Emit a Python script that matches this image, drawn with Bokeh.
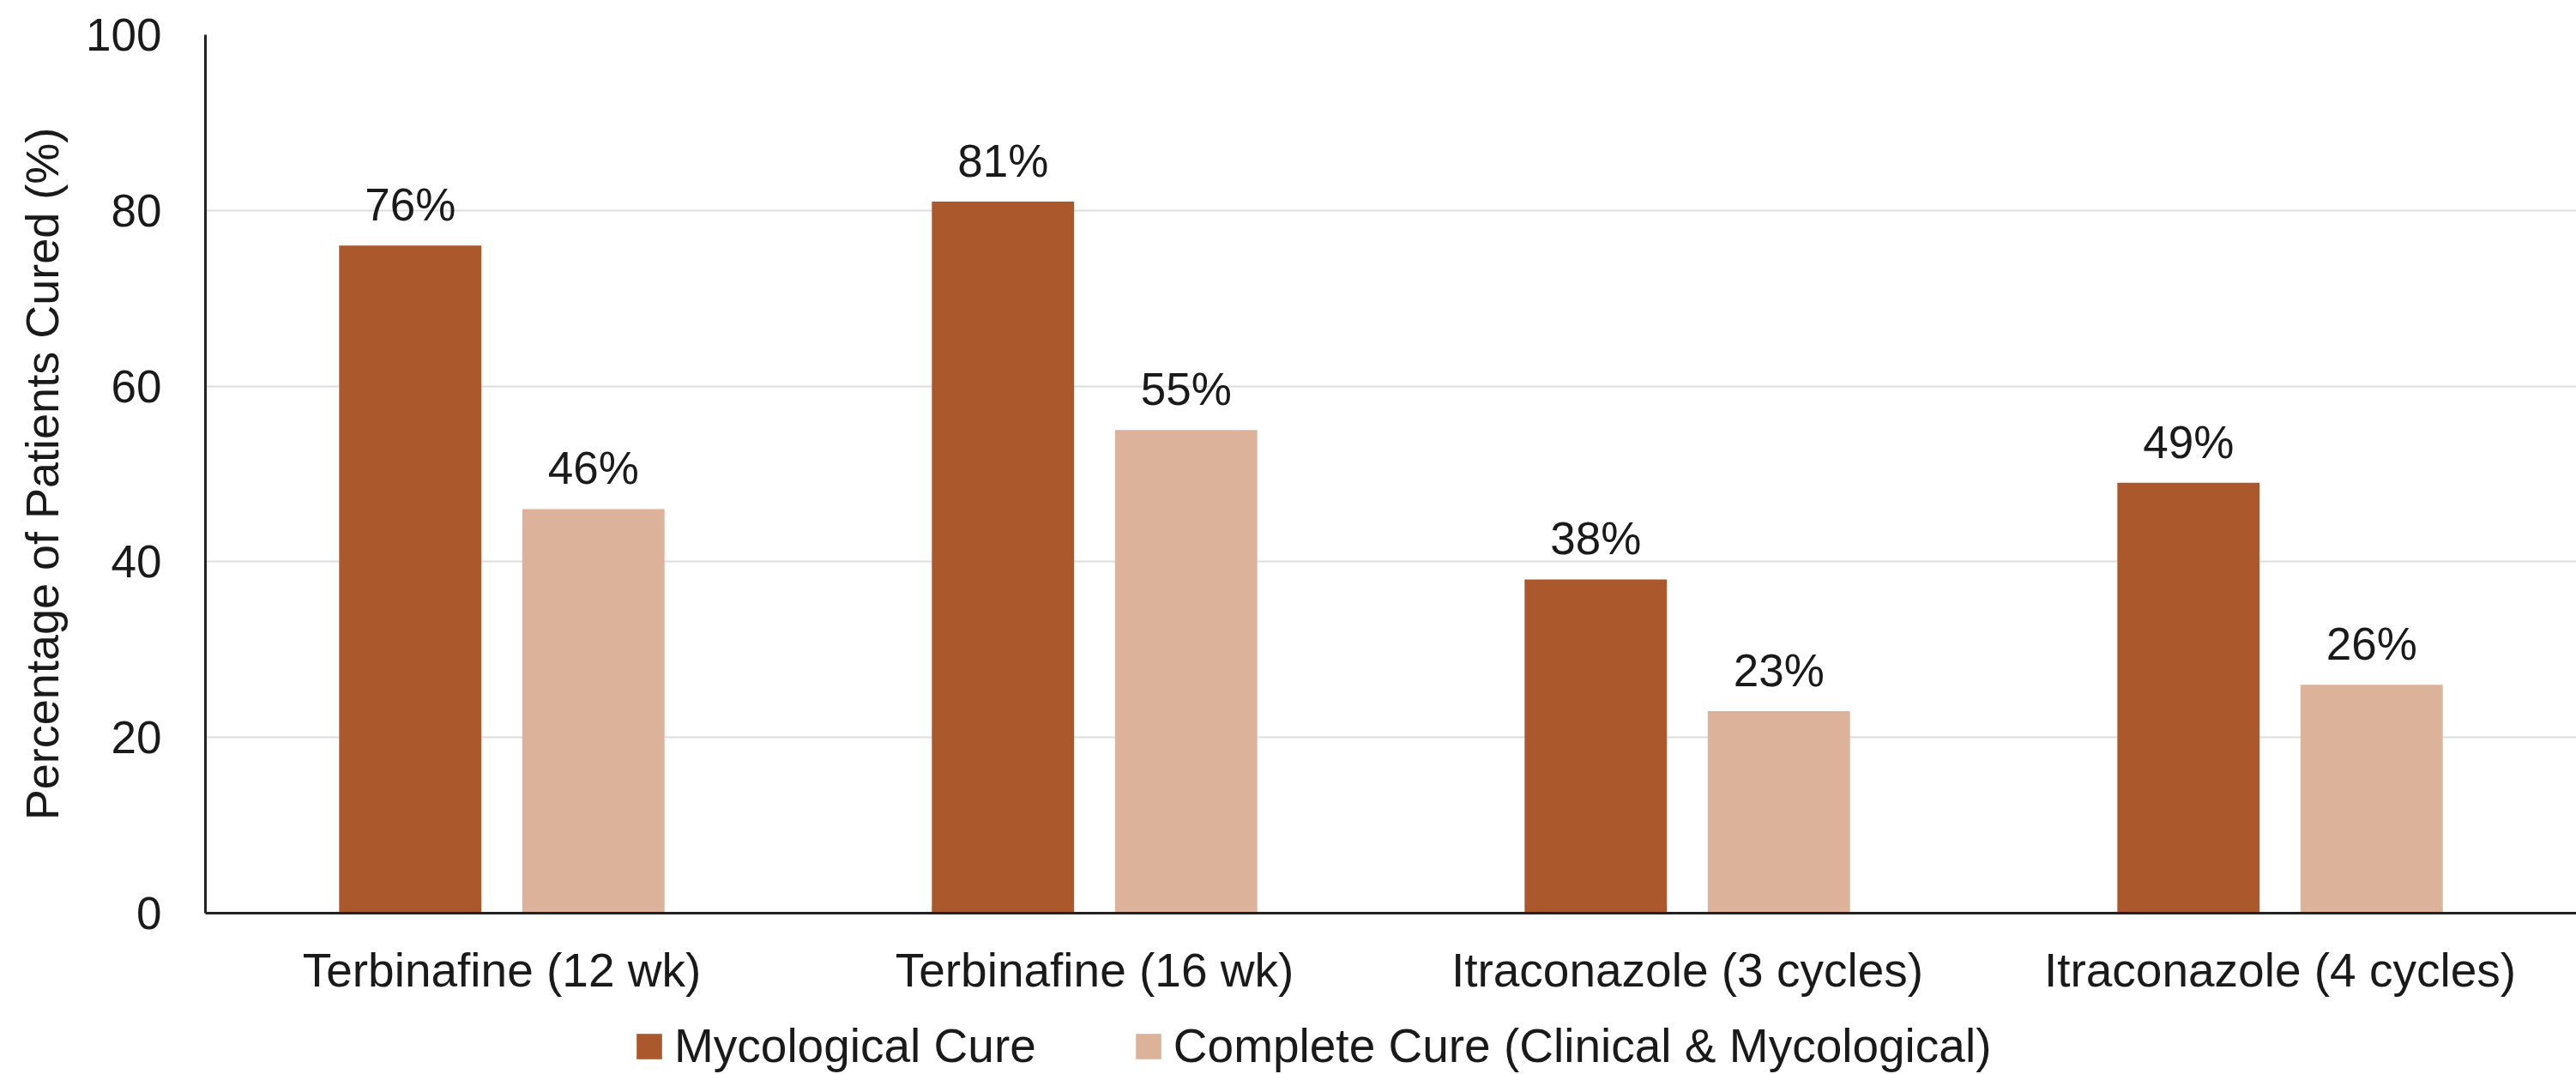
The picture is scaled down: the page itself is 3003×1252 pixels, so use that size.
from bokeh.plotting import figure
from bokeh.layouts import column
from bokeh.models import (ColumnDataSource, FactorRange, Legend, LegendItem,
                          LabelSet, Range1d, FixedTicker)
from bokeh.core.properties import value
from bokeh.transform import dodge
from bokeh.embed import file_html
from bokeh.resources import INLINE

# ---- data ----
categories = ["Terbinafine (12 wk)", "Terbinafine (16 wk)",
              "Itraconazole (3 cycles)", "Itraconazole (4 cycles)"]
mycological = [76, 81, 38, 49]
complete = [46, 55, 23, 26]
series_names = ["Mycological Cure", "Complete Cure (Clinical & Mycological)"]
y_ticks = [0, 20, 40, 60, 80, 100]
y_label = "Percentage of Patients Cured (%)"

MYCO_COLOR = "#AA582C"
COMP_COLOR = "#DCB29B"
FONT = "Liberation Sans"
TEXT_COLOR = "#1a1a1a"

src = ColumnDataSource(dict(
    cat=categories,
    myco=mycological,
    comp=complete,
    myco_lbl=[f"{v}%" for v in mycological],
    comp_lbl=[f"{v}%" for v in complete],
))

p = figure(
    x_range=FactorRange(factors=categories),
    y_range=Range1d(0, 100),
    width=3003, height=1180,
    output_backend="svg", toolbar_location=None,
    min_border_left=239, min_border_top=40,
    min_border_right=0, min_border_bottom=116,
)
p.outline_line_color = None
p.background_fill_color = "white"
p.border_fill_color = "white"

OFF = 0.1545
BW = 0.24
r1 = p.vbar(x=dodge("cat", -OFF, range=p.x_range), top="myco", width=BW,
            source=src, fill_color=MYCO_COLOR, line_color=None)
r2 = p.vbar(x=dodge("cat", OFF, range=p.x_range), top="comp", width=BW,
            source=src, fill_color=COMP_COLOR, line_color=None)

for col, off in (("myco", -OFF), ("comp", OFF)):
    ls = LabelSet(x=dodge("cat", off, range=p.x_range), y=col, text=col + "_lbl",
                  source=src, text_align="center", text_baseline="alphabetic",
                  y_offset=29, text_font=value(FONT), text_font_size=value("53px"),
                  text_color=TEXT_COLOR)
    p.add_layout(ls)

# axes
p.yaxis.ticker = FixedTicker(ticks=y_ticks)
p.yaxis.axis_label = y_label
p.yaxis.axis_label_text_font = FONT
p.yaxis.axis_label_text_font_size = "54px"
p.yaxis.axis_label_text_font_style = "normal"
p.yaxis.axis_label_text_color = TEXT_COLOR
p.yaxis.axis_label_standoff = 18
p.yaxis.major_label_text_font = FONT
p.yaxis.major_label_text_font_size = "53px"
p.yaxis.major_label_text_color = TEXT_COLOR
p.yaxis.major_label_standoff = 51
p.yaxis.major_tick_line_color = None
p.yaxis.minor_tick_line_color = None
p.yaxis.major_tick_out = 0
p.yaxis.major_tick_in = 0
p.yaxis.axis_line_color = "#222222"
p.yaxis.axis_line_width = 3

p.xaxis.major_label_text_font = FONT
p.xaxis.major_label_text_font_size = "55px"
p.xaxis.major_label_text_color = TEXT_COLOR
p.xaxis.major_label_standoff = 35
p.xaxis.major_tick_line_color = None
p.xaxis.minor_tick_line_color = None
p.xaxis.major_tick_out = 0
p.xaxis.major_tick_in = 0
p.xaxis.axis_line_color = "#222222"
p.xaxis.axis_line_width = 3

p.xgrid.grid_line_color = None
p.ygrid.grid_line_color = "#dddddd"
p.ygrid.grid_line_width = 2

# ---- legend strip below the chart (same bars, scrolled out of view) ----
lf = figure(width=3003, height=72, x_range=p.x_range, y_range=Range1d(500, 501),
            output_backend="svg", toolbar_location=None,
            x_axis_type=None, y_axis_type=None,
            min_border_left=239, min_border_right=0,
            min_border_top=0, min_border_bottom=0)
lf.outline_line_color = None
lf.xgrid.visible = False
lf.ygrid.visible = False
lf.border_fill_color = "white"
lf.background_fill_color = "white"
lr1 = lf.vbar(x=dodge("cat", -OFF, range=p.x_range), top="myco", width=BW,
              source=src, fill_color=MYCO_COLOR, line_color=None)
lr2 = lf.vbar(x=dodge("cat", OFF, range=p.x_range), top="comp", width=BW,
              source=src, fill_color=COMP_COLOR, line_color=None)

legend = Legend(
    items=[LegendItem(label=series_names[0], renderers=[lr1]),
           LegendItem(label=series_names[1], renderers=[lr2])],
    orientation="horizontal",
    location=(499, 1),
    label_text_font=FONT, label_text_font_size="55px",
    label_text_color=TEXT_COLOR,
    glyph_width=37, glyph_height=37,
    label_standoff=11, spacing=112,
    padding=0, margin=0,
    border_line_color=None, background_fill_alpha=0,
)
lf.add_layout(legend)

layout = column(p, lf, spacing=0)
open("out.html", "w").write(file_html(layout, INLINE))
